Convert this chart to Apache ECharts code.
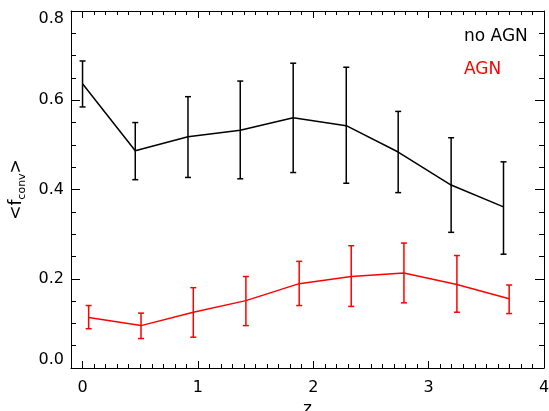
<!DOCTYPE html>
<html>
<head>
<meta charset="utf-8">
<script src="https://cdn.jsdelivr.net/npm/echarts@6/dist/echarts.min.js"></script>
<style>html,body{margin:0;padding:0;background:#fff}#c{width:549px;height:411px}</style>
</head>
<body>
<div id="c"></div>
<script>
// ---- data ----
const zNoAGN = [0.00, 0.457, 0.914, 1.367, 1.826, 2.286, 2.736, 3.195, 3.649];
const fNoAGN = [0.637, 0.487, 0.518, 0.533, 0.561, 0.543, 0.484, 0.410, 0.361];
const hiNoAGN = [0.688, 0.550, 0.608, 0.643, 0.683, 0.674, 0.575, 0.516, 0.462];
const loNoAGN = [0.585, 0.422, 0.427, 0.424, 0.438, 0.414, 0.393, 0.304, 0.255];

const zAGN = [0.053, 0.507, 0.960, 1.416, 1.878, 2.329, 2.786, 3.245, 3.698];
const fAGN = [0.113, 0.095, 0.125, 0.151, 0.189, 0.205, 0.213, 0.187, 0.155];
const hiAGN = [0.140, 0.123, 0.180, 0.205, 0.239, 0.274, 0.280, 0.252, 0.186];
const loAGN = [0.088, 0.066, 0.069, 0.095, 0.140, 0.138, 0.146, 0.125, 0.122];

const xTicks = [0, 1, 2, 3, 4];
const yTicks = [0.0, 0.2, 0.4, 0.6, 0.8];
const seriesNames = ['no AGN', 'AGN'];

// ---- chart ----
const FONT = 'DejaVu Sans';
const xMinor = [];
for (let i = 1; i < 40; i++) { if (i % 10 !== 0) xMinor.push(i / 10); }

function xAxisDef(pos, major) {
  return {
    type: 'value', min: -0.1, max: 4, position: pos,
    axisLine: { show: major, onZero: false, lineStyle: { color: '#000', width: 1 } },
    axisTick: { show: true, inside: true, length: major ? 7 : 4, customValues: major ? xTicks : xMinor,
                lineStyle: { color: '#000', width: 1 } },
    axisLabel: { show: major && pos === 'bottom', customValues: xTicks, color: '#000', fontFamily: FONT, fontSize: 16, margin: 12 },
    splitLine: { show: false },
    name: (major && pos === 'bottom') ? 'z' : '',
    nameLocation: 'middle', nameGap: 32,
    nameTextStyle: { color: '#000', fontFamily: FONT, fontSize: 17 }
  };
}
function yAxisDef(pos) {
  const left = pos === 'left';
  return {
    type: 'value', min: 0, max: 0.8, interval: 0.2, position: pos,
    axisLine: { show: true, onZero: false, lineStyle: { color: '#000', width: 1 } },
    axisTick: { show: true, inside: true, length: 9, lineStyle: { color: '#000', width: 1 } },
    minorTick: { show: true, splitNumber: 4, length: 5, lineStyle: { color: '#000', width: 1 } },
    axisLabel: { show: left, color: '#000', fontFamily: FONT, fontSize: 16, margin: 7,
                 formatter: v => v.toFixed(1),
                 verticalAlignMaxLabel: 'top', verticalAlignMinLabel: 'bottom' },
    splitLine: { show: false },
    name: left ? '{a|<f}{b|conv}{a|>}' : '',
    nameLocation: 'middle', nameGap: 40, nameRotate: 90,
    nameTextStyle: {
      color: '#000', fontFamily: FONT, fontSize: 17,
      rich: {
        a: { fontFamily: FONT, fontSize: 17, color: '#000', lineHeight: 20, verticalAlign: 'top' },
        b: { fontFamily: FONT, fontSize: 11, color: '#000', lineHeight: 11, verticalAlign: 'bottom', padding: [14, 0, 0, 0] }
      }
    }
  };
}

function errRender(color) {
  return function (params, api) {
    const x = api.value(0), lo = api.value(1), hi = api.value(2);
    const a = api.coord([x, lo]), b = api.coord([x, hi]);
    const w = 3;
    const st = { stroke: color, lineWidth: 1.5 };
    return {
      type: 'group',
      children: [
        { type: 'line', shape: { x1: a[0], y1: a[1], x2: b[0], y2: b[1] }, style: st },
        { type: 'line', shape: { x1: a[0] - w, y1: a[1], x2: a[0] + w, y2: a[1] }, style: st },
        { type: 'line', shape: { x1: b[0] - w, y1: b[1], x2: b[0] + w, y2: b[1] }, style: st }
      ]
    };
  };
}

const chart = echarts.init(document.getElementById('c'), null, { renderer: 'canvas' });
chart.setOption({
  animation: false,
  backgroundColor: '#fff',
  grid: { left: 71, top: 11, right: 5, bottom: 43, containLabel: false, outerBoundsMode: 'none' },
  xAxis: [xAxisDef('bottom', true), xAxisDef('bottom', false), xAxisDef('top', true), xAxisDef('top', false)],
  yAxis: [yAxisDef('left'), yAxisDef('right')],
  series: [
    { name: seriesNames[0], type: 'line', data: zNoAGN.map((z, i) => [z, fNoAGN[i]]),
      symbol: 'none', lineStyle: { color: '#000', width: 1.5 }, z: 3 },
    { type: 'custom', data: zNoAGN.map((z, i) => [z, loNoAGN[i], hiNoAGN[i]]),
      renderItem: errRender('#000'), z: 3 },
    { name: seriesNames[1], type: 'line', data: zAGN.map((z, i) => [z, fAGN[i]]),
      symbol: 'none', lineStyle: { color: '#ff0000', width: 1.5 }, z: 3 },
    { type: 'custom', data: zAGN.map((z, i) => [z, loAGN[i], hiAGN[i]]),
      renderItem: errRender('#ff0000'), z: 3 }
  ],
  graphic: [
    { type: 'text', left: 464, top: 28, style: { text: seriesNames[0], fill: '#000', font: '17px "DejaVu Sans"' } },
    { type: 'text', left: 464, top: 61, style: { text: seriesNames[1], fill: '#ff0000', font: '17px "DejaVu Sans"' } }
  ]
});
</script>
</body>
</html>
